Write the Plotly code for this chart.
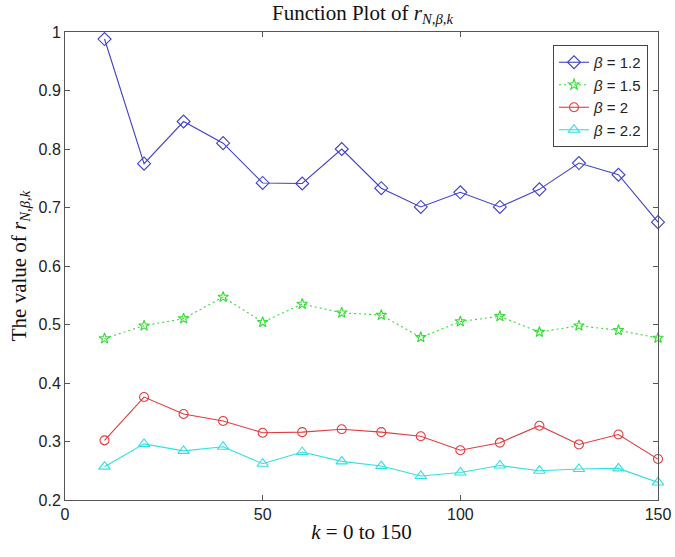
import plotly.graph_objects as go

k = [10, 20, 30, 40, 50, 60, 70, 80, 90, 100, 110, 120, 130, 140, 150]
r_b12 = [0.988, 0.775, 0.847, 0.810, 0.742, 0.741, 0.800, 0.733, 0.701, 0.726, 0.701, 0.731, 0.776, 0.756, 0.675]
r_b15 = [0.476, 0.498, 0.510, 0.547, 0.504, 0.535, 0.520, 0.516, 0.478, 0.505, 0.514, 0.487, 0.498, 0.490, 0.477]
r_b2 = [0.302, 0.376, 0.347, 0.335, 0.315, 0.316, 0.321, 0.316, 0.309, 0.285, 0.298, 0.327, 0.295, 0.312, 0.270]
r_b22 = [0.257, 0.296, 0.284, 0.291, 0.262, 0.282, 0.266, 0.258, 0.241, 0.247, 0.259, 0.250, 0.253, 0.254, 0.230]

x_ticks = [0, 50, 100, 150]
y_ticks = [0.2, 0.3, 0.4, 0.5, 0.6, 0.7, 0.8, 0.9, 1]
y_tick_text = ["0.2", "0.3", "0.4", "0.5", "0.6", "0.7", "0.8", "0.9", "1"]

series = [
    ("<i>β</i> = 1.2", r_b12, "#4040cc", "solid", "diamond-open", 10),
    ("<i>β</i> = 1.5", r_b15, "#33dd33", "2px,3px", "star-open", 8),
    ("<i>β</i> = 2", r_b2, "#e03c3c", "solid", "circle-open", 9),
    ("<i>β</i> = 2.2", r_b22, "#33e0e0", "solid", "triangle-up-open", 10),
]

fig = go.Figure()
for name, ys, color, dash, sym, size in series:
    fig.add_trace(go.Scatter(
        x=k, y=ys, name=name, mode="lines+markers", cliponaxis=False,
        line=dict(color=color, width=1.1, dash=dash),
        marker=dict(symbol=sym, size=size, color=color, line=dict(width=1.1, color=color)),
    ))

serif = "Liberation Serif, DejaVu Serif, serif"
sans = "Liberation Sans, Arial, sans-serif"

axis_common = dict(
    showline=True, linecolor="#555555", linewidth=1, mirror="ticks",
    ticks="inside", ticklen=5, tickcolor="#555555", showgrid=False, zeroline=False,
    automargin=False,
    tickfont=dict(family=sans, size=16, color="#222222"),
)

fig.update_layout(
    width=675, height=557,
    margin=dict(l=65, r=17, t=32, b=57),
    paper_bgcolor="white", plot_bgcolor="white",
    title=dict(text="Function Plot of <i>r</i><sub><i>N,β,k</i></sub>", x=0.537, xanchor="center",
               y=0.978, yanchor="middle", font=dict(family=serif, size=21, color="#111111")),
    xaxis=dict(range=[0, 150], tickvals=x_ticks,
               title=dict(text="<i>k</i> = 0 to 150", font=dict(family=serif, size=21, color="#111111"), standoff=2),
               **axis_common),
    yaxis=dict(range=[0.2, 1], tickvals=y_ticks, ticktext=y_tick_text,
               title=dict(text="The value of <i>r</i><sub><i>N,β,k</i></sub>", font=dict(family=serif, size=21, color="#111111"), standoff=6),
               **axis_common),
    legend=dict(x=(648 - 65) / 593, y=(500 - 45) / 468, xanchor="right", yanchor="top",
                bordercolor="#444444", borderwidth=1, bgcolor="white",
                font=dict(family=sans, size=15, color="#222222"),
                tracegroupgap=0, itemwidth=30),
    showlegend=True,
)

fig.write_html("out.html", config={"displayModeBar": False},
               post_script="document.body.style.margin='0';")
